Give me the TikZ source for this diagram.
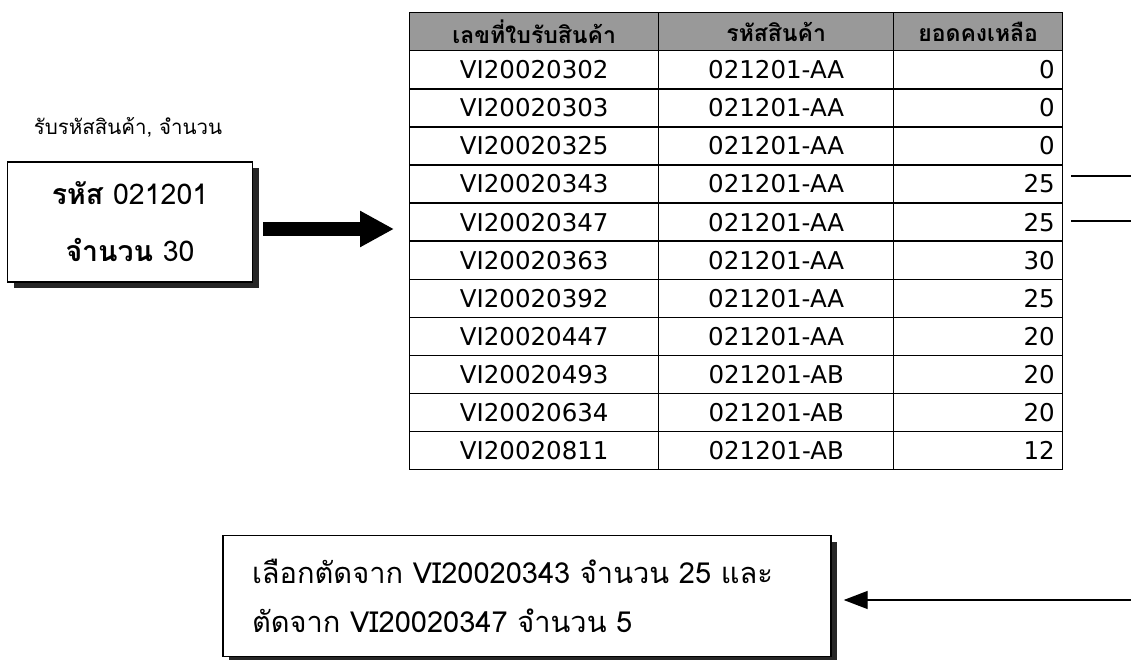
\documentclass[tikz,border=0pt]{standalone}
\usepackage{fontspec}
\setmainfont{DejaVu Sans}
\newfontfamily\thai[Script=Thai]{Loma}
\usetikzlibrary{arrows.meta,positioning,shadows}

\tikzset{
	cell/.style = {draw, line width=1.4pt, inner sep=0pt, anchor=north west,
		minimum height=38.08pt, font=\fontsize{24.5}{26}\selectfont},
	head/.style = {cell, fill=black!40, font=\thai\bfseries\fontsize{23}{25}\selectfont},
	qty/.style = {cell, minimum width=169pt, text width=153pt, align=right},
	card/.style = {draw, line width=1.4pt, fill=white,
		drop shadow={shadow xshift=6pt, shadow yshift=-6pt, fill=black!85, opacity=1}},
	thin line/.style = {line width=1.4pt}
}

\begin{document}
\begin{tikzpicture}[x=1pt,y=-1pt]

	\useasboundingbox (0,0) rectangle (1131,660);

	% table of receipts
	\node[head, minimum width=249pt] (h1) at (409,12) {เลขที่ใบรับสินค้า};
	\node[head, minimum width=235pt] (h2) at (658,12) {รหัสสินค้า};
	\node[head, minimum width=169pt] (h3) at (893,12) {ยอดคงเหลือ};
	\foreach \doc/\code/\rest [count=\i] in {
		VI20020302/021201-AA/0, VI20020303/021201-AA/0, VI20020325/021201-AA/0,
		VI20020343/021201-AA/25, VI20020347/021201-AA/25, VI20020363/021201-AA/30,
		VI20020392/021201-AA/25, VI20020447/021201-AA/20, VI20020493/021201-AB/20,
		VI20020634/021201-AB/20, VI20020811/021201-AB/12}{
		\node[cell, minimum width=249pt] (d\i) at (409,{12+38.08*\i}) {\doc};
		\node[cell, minimum width=235pt] (c\i) at (658,{12+38.08*\i}) {\code};
		\node[qty] (q\i) at (893,{12+38.08*\i}) {\rest};
	}

	% input
	\node[font=\thai\fontsize{20.5}{22}\selectfont] (lbl) at (128,127) {รับรหัสสินค้า, จำนวน};
	\node[card, minimum width=245pt, minimum height=120pt, align=center,
		font=\thai\fontsize{28.5}{59}\selectfont] (inbox) at (130,222)
		{\textbf{รหัส} 021201\\[-2pt]\textbf{จำนวน} 30};
	\draw[line width=14pt, shorten <=10pt, shorten >=15pt,
		-{Triangle[length=34pt 0, width=34pt 0]}]
		([yshift=-7pt]inbox.east) -- ([yshift=-7pt]inbox.east -| d5.west);

	% result
	\node[card, minimum width=608pt, minimum height=121pt, align=left,
		text width=550pt, font=\thai\fontsize{29}{49}\selectfont] (pick) at (527,596)
		{เลือกตัดจาก VI20020343 จำนวน 25 และ\\ตัดจาก VI20020347 จำนวน 5};

	\coordinate (out1) at (1131,176);
	\coordinate (out2) at (1131,221);
	\coordinate (out3) at (1131,600);
	\draw[thin line, shorten <=8pt] (q4.east |- out1) -- (out1);
	\draw[thin line, shorten <=8pt] (q5.east |- out2) -- (out2);
	\draw[thin line, shorten >=12pt, -{Triangle[length=24pt 0, width=18pt 0]}]
		(out3) -- (pick.east |- out3);

\end{tikzpicture}
\end{document}
